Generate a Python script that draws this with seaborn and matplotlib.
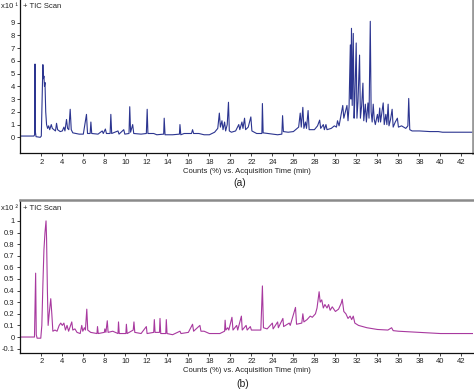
import numpy as np
import matplotlib
matplotlib.use("Agg")
import matplotlib.pyplot as plt
import seaborn as sns

# --- chromatogram (a): time (min), counts (x10^1) ---
time_a = [0.0, 1.3, 1.36, 1.4, 1.44, 1.5, 1.9, 2.0, 2.08, 2.15, 2.2, 2.25, 2.3, 2.35, 2.42, 2.5,
          2.6, 2.7, 2.8, 2.95, 3.05, 3.2, 3.35, 3.45, 3.55, 3.8, 4.0, 4.15, 4.25, 4.4, 4.5, 4.62,
          4.75, 4.85, 5.0, 5.3, 5.6, 6.0, 6.3, 6.4, 6.65, 6.72, 6.8, 7.4, 7.8, 7.9, 8.1, 8.2,
          8.55, 8.62, 8.7, 9.3, 9.4, 9.85, 9.95, 10.35, 10.42, 10.5, 10.7, 10.8, 11.5, 12.0,
          12.08, 12.15, 12.7, 13.0, 13.65, 13.7, 13.78, 14.5, 15.15, 15.2, 15.28, 15.6, 16.3,
          16.4, 16.5, 17.0, 17.5, 18.0, 18.5, 18.8, 18.95, 19.05, 19.2, 19.3, 19.45, 19.55,
          19.7, 19.82, 19.9, 20.1, 20.5, 20.8, 20.9, 21.1, 21.2, 21.35, 21.45, 21.7, 21.95,
          22.05, 22.5, 23.0, 23.05, 23.12, 24.0, 24.5, 24.9, 24.97, 25.05, 25.5, 26.0, 26.5,
          26.65, 26.75, 26.9, 27.0, 27.15, 27.25, 27.4, 27.5, 28.0, 28.3, 28.5, 28.6, 28.85,
          28.95, 29.1, 29.2, 29.6, 29.9, 30.1, 30.2, 30.35, 30.5, 30.7, 30.8, 30.95, 31.1,
          31.2, 31.3, 31.42, 31.48, 31.53, 31.6, 31.7, 31.78, 31.85, 31.98, 32.05, 32.15,
          32.3, 32.38, 32.5, 32.62, 32.7, 32.85, 32.95, 33.1, 33.2, 33.32, 33.4, 33.5, 33.6,
          33.7, 33.8, 34.0, 34.1, 34.22, 34.3, 34.55, 34.65, 34.8, 34.9, 35.02, 35.1, 35.25,
          35.4, 35.5, 35.7, 35.9, 36.0, 36.3, 36.5, 36.7, 36.9, 36.98, 37.08, 37.3, 38.0,
          39.0, 39.8, 40.2, 43.1]
counts_a = [0.1, 0.1, 0.2, 5.75, 0.4, 0.05, 0.0, 0.1, 3.0, 5.7, 4.6, 4.8, 4.0, 4.3, 2.0, 1.0,
            0.7, 0.9, 0.6, 1.0, 0.7, 0.6, 0.5, 1.1, 0.6, 0.45, 0.5, 0.8, 0.5, 1.4, 0.7, 0.6,
            2.2, 0.6, 0.35, 0.3, 0.25, 0.25, 1.8, 0.3, 0.3, 1.2, 0.3, 0.25, 0.5, 0.3, 0.65, 0.3,
            0.3, 1.8, 0.3, 0.5, 0.25, 0.6, 0.25, 0.3, 2.4, 0.4, 1.0, 0.3, 0.25, 0.3,
            2.2, 0.3, 0.3, 0.2, 0.25, 1.5, 0.2, 0.2, 0.25, 1.0, 0.2, 0.3, 0.3,
            0.6, 0.3, 0.3, 0.2, 0.2, 0.4, 0.7, 1.9, 0.8, 1.3, 0.6, 1.2, 0.5,
            1.0, 2.75, 0.5, 0.4, 0.5, 1.0, 0.6, 1.2, 0.7, 1.5, 0.6, 0.8, 1.6,
            0.5, 0.3, 0.3, 2.65, 0.35, 0.25, 0.2, 0.25, 1.7, 0.45, 0.4, 0.45, 0.8,
            1.9, 0.8, 2.35, 0.7, 1.2, 0.7, 2.1, 0.6, 0.6, 0.9, 1.35, 0.7, 1.0,
            0.6, 1.0, 0.6, 0.7, 0.9, 0.8, 1.3, 0.9, 1.6, 2.5, 1.5, 2.0, 2.5,
            1.3, 2.4, 7.25, 3.0, 8.55, 2.5, 8.15, 1.5, 3.0, 7.4, 1.5, 2.8,
            6.45, 1.5, 2.5, 4.25, 1.3, 2.6, 1.2, 2.7, 1.5, 9.1, 2.0, 1.2, 2.6,
            1.4, 1.0, 1.8, 1.2, 2.3, 1.2, 2.7, 1.0, 1.8, 1.0, 2.6, 0.9, 1.4,
            2.2, 0.8, 1.2, 1.5, 0.8, 0.9, 0.8, 0.7, 0.9, 3.05, 0.6, 0.5, 0.5,
            0.45, 0.45, 0.4, 0.4]

# --- chromatogram (b): time (min), counts (x10^2) ---
time_b = [0.0, 1.35, 1.42, 1.46, 1.52, 1.6, 1.95, 2.05, 2.15, 2.25, 2.35, 2.45, 2.5, 2.58, 2.65,
          2.75, 2.9, 3.0, 3.1, 3.3, 3.5, 3.7, 3.85, 4.0, 4.15, 4.3, 4.45, 4.6, 4.9, 5.0, 5.2,
          5.4, 5.7, 5.85, 5.95, 6.1, 6.2, 6.33, 6.42, 6.7, 7.3, 7.35, 7.42, 8.0, 8.05, 8.15,
          8.28, 8.36, 8.8, 9.3, 9.35, 9.42, 10.05, 10.1, 10.17, 10.75, 10.82, 10.9, 11.5,
          12.0, 12.07, 12.7, 12.76, 12.83, 13.25, 13.3, 13.37, 13.85, 13.9, 13.97, 14.5,
          15.2, 15.3, 16.0, 16.4, 16.5, 17.1, 17.2, 17.5, 18.0, 19.0, 19.45, 19.5, 19.57,
          19.75, 19.85, 20.15, 20.25, 20.6, 20.7, 21.05, 21.13, 21.5, 21.6, 21.9, 22.0,
          22.9, 23.05, 23.15, 23.5, 24.0, 24.07, 24.5, 24.57, 25.0, 25.07, 25.6, 25.7,
          26.2, 26.3, 26.8, 26.9, 27.0, 27.3, 27.6, 27.8, 28.1, 28.25, 28.45, 28.55, 28.7,
          28.85, 29.0, 29.2, 29.35, 29.5, 29.7, 30.0, 30.3, 30.55, 30.65, 30.8, 31.0, 31.2,
          31.4, 31.55, 31.7, 31.85, 32.2, 33.0, 34.0, 35.0, 35.35, 35.5, 36.0, 37.0, 38.0,
          40.0, 43.1]
counts_b = [0.0, 0.0, 0.36, 0.55, 0.02, -0.01, -0.01, 0.1, 0.45, 0.75, 0.9, 1.0, 0.85, 0.4, 0.1,
            0.2, 0.33, 0.2, 0.05, 0.06, 0.05, 0.1, 0.12, 0.1, 0.12, 0.06, 0.1, 0.05, 0.13, 0.06, 0.07,
            0.04, 0.03, 0.1, 0.05, 0.08, 0.06, 0.24, 0.06, 0.04, 0.03, 0.09, 0.03, 0.04, 0.07, 0.04,
            0.14, 0.04, 0.05, 0.03, 0.13, 0.03, 0.03, 0.11, 0.03, 0.06, 0.13, 0.04, 0.03,
            0.09, 0.03, 0.04, 0.15, 0.04, 0.04, 0.16, 0.03, 0.03, 0.15, 0.03, 0.02,
            0.05, 0.03, 0.04, 0.11, 0.05, 0.1, 0.05, 0.05, 0.03, 0.03, 0.05, 0.145, 0.06,
            0.08, 0.06, 0.17, 0.06, 0.1, 0.06, 0.18, 0.06, 0.1, 0.06, 0.09, 0.06,
            0.06, 0.44, 0.08, 0.07, 0.12, 0.07, 0.13, 0.08, 0.16, 0.09, 0.12, 0.1,
            0.255, 0.11, 0.12, 0.2, 0.13, 0.15, 0.18, 0.17, 0.2, 0.25, 0.39, 0.3, 0.32,
            0.25, 0.28, 0.25, 0.28, 0.23, 0.26, 0.22, 0.24, 0.29, 0.325, 0.22, 0.2, 0.16,
            0.18, 0.15, 0.18, 0.12, 0.1, 0.08, 0.065, 0.06, 0.08, 0.055, 0.05, 0.045, 0.04,
            0.03, 0.03]

x_ticks = list(range(2, 43, 2))
y_ticks_a = list(range(0, 10))
y_ticks_b = [-0.1, 0, 0.1, 0.2, 0.3, 0.4, 0.5, 0.6, 0.7, 0.8, 0.9, 1.0]
y_labels_b = ["-0.1", "0", "0.1", "0.2", "0.3", "0.4", "0.5", "0.6", "0.7", "0.8", "0.9", "1"]

sns.set_style("ticks")
plt.rcParams['font.family'] = ['Liberation Sans', 'DejaVu Sans']

W, H = 474, 391
fig = plt.figure(figsize=(W / 100, H / 100), dpi=100)


def px_axes(left, top, right, bottom):
    return fig.add_axes([left / W, 1 - bottom / H, (right - left) / W, (bottom - top) / H])


def style_axes(ax, ylim, yticks, ylabels, color):
    ax.set_xlim(0, 43.1)
    ax.set_ylim(*ylim)
    ax.set_xticks(x_ticks)
    ax.set_xticklabels([str(t) for t in x_ticks])
    ax.set_yticks(yticks)
    ax.set_yticklabels(ylabels)
    ax.tick_params(axis="both", labelsize=5.5, length=2.5, width=0.6, pad=1.5, colors="#222222")
    ax.set_xlabel("Counts (%) vs. Acquisition Time (min)", fontsize=5.5, labelpad=1.5,
                  color="#222222")
    ax.set_ylabel("")
    for s in ["left", "bottom"]:
        ax.spines[s].set_color("#111111")
        ax.spines[s].set_linewidth(0.9)
    ax.set_facecolor("white")


# (a)
ax1 = px_axes(20.3, -1, 473, 153)
sns.lineplot(x=time_a, y=counts_a, ax=ax1, color="#2c3590", linewidth=0.8,
             sort=False, estimator=None)
style_axes(ax1, (-1.23, 10.85), y_ticks_a, [str(v) for v in y_ticks_a], "#2c3590")
ax1.spines["top"].set_visible(False)
ax1.spines["right"].set_color("#9a9a9a")
ax1.spines["right"].set_linewidth(2.0)
ax1.text(2.5 / 452, 1 - 7 / 154, "+ TIC Scan", transform=ax1.transAxes, fontsize=5.5,
         va="center", ha="left", color="#222222")
fig.text(18 / W, 1 - 6 / H, "x10 \u00b9", fontsize=5.5, ha="right", va="center",
         color="#222222")
fig.text(240 / W, 1 - 183 / H, "(a)", fontsize=7.5, ha="center", va="center",
         color="#222222")

# (b)
ax2 = px_axes(20.3, 200, 473, 352.7)
sns.lineplot(x=time_b, y=counts_b, ax=ax2, color="#a8399f", linewidth=0.8,
             sort=False, estimator=None)
style_axes(ax2, (-0.135, 1.18), y_ticks_b, y_labels_b, "#a8399f")
ax2.spines["right"].set_visible(False)
ax2.spines["top"].set_color("#8a8a8a")
ax2.spines["top"].set_linewidth(1.8)
ax2.text(2.5 / 452, 1 - 8 / 152.7, "+ TIC Scan", transform=ax2.transAxes, fontsize=5.5,
         va="center", ha="left", color="#222222")
fig.text(18 / W, 1 - 208 / H, "x10 \u00b2", fontsize=5.5, ha="right", va="center",
         color="#222222")
fig.text(243 / W, 1 - 384 / H, "(b)", fontsize=7.5, ha="center", va="center",
         color="#222222")

fig.savefig("out.png", dpi=100)
